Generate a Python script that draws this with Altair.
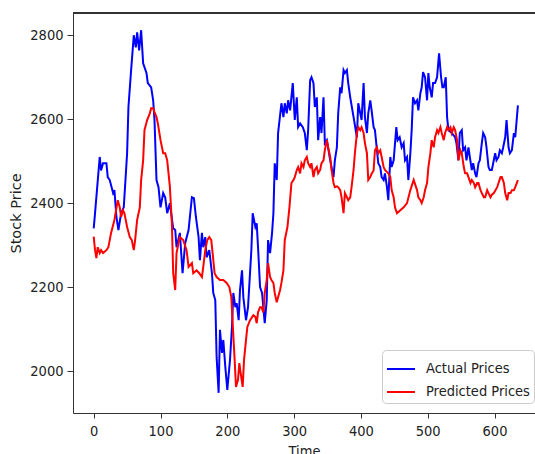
import altair as alt
import pandas as pd

# ---- data ----
actual_x = [0, 2, 9, 11, 14, 19, 21, 24, 29, 31,
            34, 37, 41, 45, 50, 52, 56, 60, 63, 65,
            68, 71, 74, 79, 81, 86, 89, 91, 94, 97,
            100, 104, 107, 110, 114, 119, 122, 124, 129, 133,
            137, 142, 147, 150, 153, 157, 159, 162, 164, 167,
            169, 173, 177, 179, 182, 184, 187, 189, 192, 194,
            197, 200, 204, 207, 209, 212, 214, 217, 219, 222,
            224, 228, 231, 236, 238, 242, 244, 246, 249, 252,
            256, 259, 261, 264, 267, 269, 271, 274, 276, 281,
            284, 286, 289, 291, 294, 298, 301, 304, 306, 309,
            313, 316, 319, 321, 324, 326, 329, 331, 334, 336,
            339, 341, 344, 346, 349, 354, 359, 361, 364, 366,
            369, 371, 374, 376, 379, 381, 384, 389, 394, 396,
            399, 401, 404, 406, 409, 411, 414, 416, 419, 421,
            424, 426, 429, 431, 434, 436, 439, 441, 444, 446,
            449, 453, 455, 458, 461, 464, 466, 469, 471, 474,
            476, 478, 481, 484, 486, 489, 491, 493, 496, 499,
            501, 503, 506, 508, 511, 514, 517, 520, 522, 524,
            527, 529, 531, 536, 541, 543, 546, 548, 551, 553,
            556, 558, 561, 563, 566, 568, 571, 573, 576, 578,
            581, 583, 586, 588, 591, 593, 596, 598, 601, 603,
            606, 608, 611, 613, 616, 618, 621, 623, 626, 629,
            631, 635]
actual_y = [2340, 2376, 2510, 2478, 2495, 2495, 2462, 2455, 2424, 2431,
            2367, 2336, 2376, 2390, 2519, 2629, 2717, 2800, 2771, 2807,
            2764, 2812, 2733, 2710, 2686, 2676, 2645, 2598, 2455, 2438,
            2390, 2424, 2414, 2376, 2400, 2340, 2336, 2295, 2329, 2233,
            2305, 2336, 2414, 2412, 2367, 2319, 2264, 2329, 2295, 2319,
            2271, 2288, 2233, 2186, 2169, 2033, 1948, 2098, 2043, 2074,
            2010, 1955, 2026, 2105, 2186, 2152, 2162, 2121, 2193, 2240,
            2176, 2121, 2152, 2288, 2376, 2343, 2352, 2295, 2200, 2186,
            2114, 2169, 2312, 2281, 2329, 2376, 2495, 2455, 2567, 2638,
            2605, 2638, 2614, 2645, 2621, 2686, 2598, 2652, 2581, 2590,
            2581, 2567, 2526, 2574, 2693, 2700, 2686, 2629, 2652, 2550,
            2605, 2567, 2652, 2543, 2550, 2502, 2462, 2502, 2533, 2614,
            2676, 2662, 2717, 2710, 2717, 2686, 2652, 2605, 2557, 2638,
            2614, 2598, 2686, 2605, 2567, 2614, 2645, 2621, 2581, 2574,
            2526, 2495, 2486, 2462, 2455, 2471, 2438, 2407, 2510, 2486,
            2502, 2581, 2550, 2557, 2533, 2543, 2502, 2510, 2455, 2519,
            2574, 2652, 2638, 2645, 2621, 2662, 2676, 2712, 2700, 2645,
            2710, 2676, 2652, 2686, 2686, 2700, 2757, 2700, 2676, 2676,
            2700, 2605, 2574, 2567, 2557, 2543, 2502, 2567, 2574, 2526,
            2533, 2502, 2533, 2510, 2479, 2495, 2471, 2462, 2495, 2502,
            2543, 2567, 2557, 2533, 2486, 2479, 2479, 2495, 2519, 2502,
            2510, 2526, 2519, 2533, 2557, 2598, 2533, 2519, 2526, 2567,
            2557, 2633]

pred_x = [0, 2, 4, 6, 9, 11, 14, 19, 22, 26,
          31, 36, 39, 41, 44, 46, 50, 54, 57, 60,
          62, 65, 69, 71, 74, 76, 80, 84, 86, 89,
          91, 94, 96, 100, 104, 107, 110, 114, 117, 119,
          122, 124, 127, 129, 134, 139, 142, 147, 149, 154,
          158, 162, 164, 167, 170, 173, 176, 178, 181, 184,
          189, 194, 199, 203, 206, 208, 211, 213, 216, 218,
          220, 223, 225, 228, 230, 234, 239, 242, 244, 246,
          249, 251, 254, 256, 259, 261, 264, 266, 269, 271,
          274, 276, 279, 281, 284, 286, 290, 293, 296, 299,
          301, 304, 306, 309, 311, 314, 316, 319, 321, 324,
          326, 329, 331, 334, 336, 339, 341, 344, 346, 349,
          351, 354, 356, 359, 361, 364, 366, 369, 371, 374,
          376, 379, 381, 384, 386, 389, 391, 394, 396, 399,
          401, 404, 406, 409, 411, 414, 416, 419, 421, 424,
          426, 429, 431, 434, 436, 441, 444, 446, 449, 451,
          454, 459, 464, 469, 474, 479, 484, 486, 489, 491,
          494, 496, 499, 501, 504, 506, 509, 511, 514, 516,
          519, 521, 524, 526, 529, 531, 534, 536, 539, 541,
          544, 546, 549, 551, 554, 556, 559, 561, 564, 566,
          569, 571, 574, 576, 579, 581, 584, 586, 589, 591,
          594, 596, 599, 604, 606, 609, 611, 614, 616, 619,
          621, 624, 626, 629, 631, 635]
pred_y = [2320, 2288, 2269, 2295, 2281, 2288, 2281, 2288, 2295, 2329,
          2360, 2407, 2390, 2367, 2383, 2376, 2343, 2319, 2312, 2288,
          2312, 2360, 2390, 2455, 2502, 2574, 2598, 2614, 2626, 2626,
          2617, 2605, 2590, 2550, 2519, 2519, 2502, 2440, 2352, 2233,
          2193, 2281, 2305, 2319, 2312, 2288, 2248, 2257, 2233, 2240,
          2233, 2224, 2248, 2288, 2312, 2319, 2312, 2281, 2233, 2224,
          2217, 2217, 2210, 2200, 2176, 2114, 2026, 1962, 1979, 2019,
          1995, 1962, 2026, 2074, 2105, 2121, 2133, 2129, 2114, 2140,
          2152, 2152, 2140, 2186, 2217, 2257, 2224, 2217, 2210, 2186,
          2164, 2176, 2193, 2210, 2240, 2312, 2343, 2390, 2448, 2455,
          2462, 2479, 2486, 2471, 2495, 2486, 2502, 2510, 2495, 2486,
          2495, 2462, 2479, 2486, 2471, 2479, 2495, 2502, 2526, 2550,
          2533, 2510, 2479, 2448, 2438, 2440, 2438, 2431, 2414, 2376,
          2424, 2414, 2407, 2414, 2438, 2479, 2519, 2567, 2581, 2574,
          2581, 2567, 2543, 2519, 2455, 2462, 2470, 2478, 2526, 2533,
          2519, 2526, 2510, 2486, 2479, 2471, 2462, 2431, 2414, 2390,
          2376, 2383, 2390, 2400, 2431, 2455, 2431, 2414, 2407, 2400,
          2414, 2431, 2448, 2486, 2519, 2550, 2533, 2557, 2574, 2567,
          2581, 2567, 2550, 2567, 2581, 2574, 2581, 2567, 2581, 2574,
          2550, 2502, 2526, 2519, 2486, 2471, 2471, 2462, 2448, 2455,
          2448, 2438, 2448, 2448, 2431, 2424, 2414, 2414, 2431, 2424,
          2414, 2420, 2424, 2438, 2448, 2462, 2462, 2448, 2424, 2407,
          2424, 2424, 2431, 2431, 2438, 2455]

series_names = ["Actual Prices", "Predicted Prices"]
series_colors = ["#0000ff", "#ff0000"]
x_ticks = [0, 100, 200, 300, 400, 500, 600]
y_ticks = [2000, 2200, 2400, 2600, 2800]

df = pd.concat([
    pd.DataFrame({"Time": actual_x, "Price": actual_y, "Series": series_names[0], "k": 0}),
    pd.DataFrame({"Time": pred_x, "Price": pred_y, "Series": series_names[1], "k": 1}),
], ignore_index=True)

W, H = 462, 400
FONT = "DejaVu Sans Condensed, DejaVu Sans"
TFONT = "DejaVu Sans"
AX = "#333333"
TXT = "#222222"

x_scale = alt.Scale(domain=[-31, 660.6], nice=False, zero=False)
y_scale = alt.Scale(domain=[1900, 2853], nice=False, zero=False)

lines = alt.Chart(df).mark_line(strokeWidth=2, clip=True).encode(
    x=alt.X("Time:Q", scale=x_scale,
            axis=alt.Axis(title="Time", values=x_ticks, format="d", grid=False,
                          tickSize=5, labelPadding=6, titlePadding=7,
                          domainColor=AX, tickColor=AX, labelColor=TXT,
                          labelFont=FONT, labelFontSize=14.5, titleFont=FONT,
                          titleFontSize=14.5, titleFontWeight="normal",
                          titleColor=TXT, labelFlush=False)),
    y=alt.Y("Price:Q", scale=y_scale,
            axis=alt.Axis(title="Stock Price", values=y_ticks, format="d", grid=False,
                          tickSize=6, labelPadding=4, titlePadding=6,
                          domainColor=AX, tickColor=AX, labelColor=TXT,
                          labelFont=FONT, labelFontSize=14.5, titleFont=TFONT,
                          titleFontSize=14.5, titleFontWeight="normal",
                          titleColor=TXT, labelFlush=False)),
    color=alt.Color("Series:N",
                    scale=alt.Scale(domain=series_names, range=series_colors),
                    legend=alt.Legend(title=None, orient="none", legendX=309, legendY=337,
                                      symbolType="stroke", symbolSize=784,
                                      symbolStrokeWidth=2, labelFont=FONT,
                                      labelFontSize=14.5, labelColor=TXT,
                                      labelOffset=10, rowPadding=1,
                                      fillColor="rgba(255,255,255,0.85)",
                                      strokeColor="#cccccc", cornerRadius=4,
                                      padding=4)),
    detail="k:N",
)

top_spine = alt.Chart(df).mark_rule(color=AX, strokeWidth=1).encode(
    x=alt.value(0), x2=alt.value(W), y=alt.value(0)
)

chart = alt.layer(lines, top_spine).properties(
    width=W, height=H,
    autosize=alt.AutoSizeParams(type="none"),
    padding={"left": 73, "top": 13, "right": 0, "bottom": 41},
).configure_view(stroke=None).configure(background="white")

chart.save("out.html", embed_options={"renderer": "svg", "actions": False})
